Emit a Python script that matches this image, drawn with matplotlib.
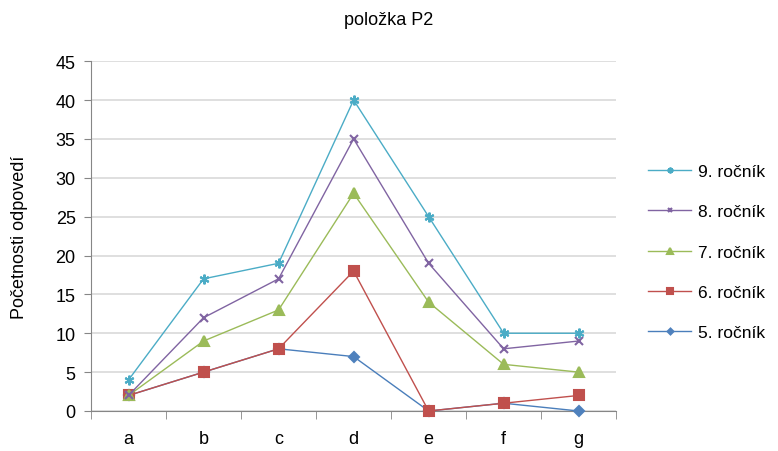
import matplotlib
matplotlib.use("Agg")
import matplotlib.pyplot as plt
import numpy as np

categories = ["a", "b", "c", "d", "e", "f", "g"]
series_names = ["9. ročník", "8. ročník", "7. ročník", "6. ročník", "5. ročník"]
r9 = [4, 17, 19, 40, 25, 10, 10]
r8 = [2, 12, 17, 35, 19, 8, 9]
r7 = [2, 9, 13, 28, 14, 6, 5]
r6 = [2, 5, 8, 18, 0, 1, 2]
r5 = [2, 5, 8, 7, 0, 1, 0]

# (line colour, marker colour, marker, size)
styles = [
    ("#4BACC6", "#4BACC6", (6, 2, 0), 7),
    ("#8064A2", "#8064A2", "x", 6),
    ("#9BBB59", "#9BBB59", "^", 7),
    ("#C0504D", "#C0504D", "s", 7),
    ("#4A7EBB", "#4F81BD", "D", 5),
]

plt.rcParams["font.family"] = ["Liberation Sans", "DejaVu Sans"]

fig = plt.figure(figsize=(7.78, 4.52), dpi=100)
ax = fig.add_axes([0.117, 0.0885, 0.675, 0.774])

x = np.arange(len(categories))
data = [r9, r8, r7, r6, r5]
# draw 5. ročník first so upper series sit on top
for name, vals, (lc, mc, mk, ms) in reversed(list(zip(series_names, data, styles))):
    ax.plot(x, vals, color=lc, lw=1.0, marker=mk, markersize=ms,
            markerfacecolor=mc, markeredgecolor=mc, markeredgewidth=1.5,
            label=name, clip_on=False, zorder=3)

ax.set_xlim(-0.5, len(categories) - 0.5)
ax.set_ylim(0, 45)
ax.set_yticks(np.arange(0, 46, 5))
ax.set_xticks(x)
ax.set_xticklabels(categories)
ax.set_xticks(np.arange(-0.5, len(categories), 1), minor=True)
ax.tick_params(axis="x", which="major", length=0, pad=14, labelsize=13)
ax.tick_params(axis="x", which="minor", length=6, color="#868686", direction="out")
ax.tick_params(axis="y", length=5, color="#868686", labelsize=13, pad=6)
ax.yaxis.grid(True, color="#D9D9D9", lw=1.2)
ax.set_axisbelow(True)
for s in ["top", "right"]:
    ax.spines[s].set_visible(False)
for s in ["left", "bottom"]:
    ax.spines[s].set_color("#868686")

ax.set_ylabel("Početnosti odpovedí", fontsize=13, labelpad=20)
fig.text(0.5, 0.955, "položka P2", ha="center", va="center", fontsize=13)

handles, labels = ax.get_legend_handles_labels()
order = [labels.index(n) for n in series_names]
leg = fig.legend([handles[i] for i in order], [labels[i] for i in order],
                 loc="center left", bbox_to_anchor=(0.833, 0.44),
                 frameon=False, fontsize=12.5, labelspacing=1.45,
                 borderpad=0, borderaxespad=0,
                 handlelength=2.5, handletextpad=0.35, markerscale=0.6)

fig.savefig("out.png", dpi=100)
